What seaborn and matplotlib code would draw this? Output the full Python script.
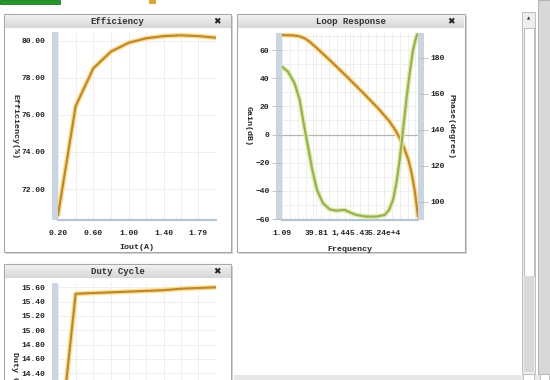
import numpy as np
import pandas as pd
import matplotlib
matplotlib.use('Agg')
import matplotlib.pyplot as plt
import seaborn as sns
from matplotlib.patches import Rectangle
from matplotlib.ticker import FixedLocator, NullFormatter

# ---- data ----
iout = [0.20, 0.40, 0.60, 0.80, 1.00, 1.20, 1.40, 1.59, 1.79, 1.99]
efficiency = [70.59, 76.47, 78.51, 79.41, 79.89, 80.13, 80.25, 80.29, 80.25, 80.16]
iout_ticks = [0.20, 0.60, 1.00, 1.40, 1.79]
eff_ticks = [72, 74, 76, 78, 80]

duty = [13.20, 15.51, 15.52, 15.53, 15.54, 15.55, 15.56, 15.58, 15.59, 15.60]
duty_ticks = [14.40, 14.60, 14.80, 15.00, 15.20, 15.40, 15.60]

# loop response, frequency as log10(Hz)
gain_logf = [0.037, 0.542, 0.848, 1.077, 1.307, 1.613, 2.225, 2.990, 3.755, 4.520,
             4.979, 5.285, 5.591, 5.820, 5.973, 6.126, 6.279]
gain_db = [70.65, 70.4, 69.7, 68.3, 65.9, 61.7, 52.9, 41.5, 29.7, 17.4,
           9.1, 2.0, -7.5, -17.0, -26.4, -39.4, -58.3]
phase_logf = [0.037, 0.312, 0.618, 0.848, 1.032, 1.230, 1.429, 1.643, 1.919, 2.225,
              2.531, 2.913, 3.143, 3.449, 3.908, 4.367, 4.749, 4.948, 5.132, 5.285,
              5.438, 5.591, 5.744, 5.897, 6.050, 6.203, 6.279]
phase_deg = [175.0, 172.2, 165.7, 156.5, 143.5, 130.6, 117.6, 106.5, 99.1, 95.7,
             95.0, 95.4, 94.1, 92.6, 91.7, 91.7, 92.6, 95.4, 100.9, 110.2,
             123.1, 139.8, 156.5, 171.3, 184.3, 191.7, 193.5]
freq_ticks = [1.09, 39.81, 1445.43, 52400]
freq_labels = ['1.09', '39.81', '1,445.43', '5.24e+4']
gain_ticks = [-60, -40, -20, 0, 20, 40, 60]
phase_ticks = [100, 120, 140, 160, 180]

W, H = 550, 380
ORANGE = '#c8841c'
ORANGE_GLOW = '#f6dc8f'
GREEN = '#94b43e'
GREEN_GLOW = '#dde9b4'
BAR = '#c9d6e1'
FONT = ['Liberation Mono', 'DejaVu Sans Mono']

sns.set_style('white')
plt.rcParams['font.family'] = FONT
plt.rcParams['font.weight'] = 'bold'

fig = plt.figure(figsize=(5.5, 3.8), dpi=100)


def box(x0, y0, x1, y1):
    return [x0 / W, 1 - y1 / H, (x1 - x0) / W, (y1 - y0) / H]


def rect(x0, y0, x1, y1, **kw):
    fig.add_artist(Rectangle((x0 / W, 1 - y1 / H), (x1 - x0) / W, (y1 - y0) / H,
                             transform=fig.transFigure, **kw))


def ftext(x, y, s, **kw):
    fig.text(x / W, 1 - y / H, s, **kw)


def panel(x0, y0, x1, y1, title):
    rect(x0 + 2, y0 + 2, x1 + 2, y1 + 2, fc='#d4d4d4', ec='none', zorder=-3)
    rect(x0, y0, x1, y1, fc='white', ec='#a8a8a8', lw=0.8, zorder=-2)
    tb = fig.add_axes(box(x0 + 1, y0 + 1, x1 - 1, y0 + 14), zorder=-1)
    grad = np.linspace(0, 1, 20).reshape(-1, 1)
    tb.imshow(grad, aspect='auto', cmap=sns.light_palette('#cfcfcf', as_cmap=True),
              extent=[0, 1, 0, 1], vmin=0, vmax=1.3)
    tb.axis('off')
    ftext((x0 + x1) / 2, y0 + 7.5, title, ha='center', va='center', fontsize=6.5,
          fontweight='bold', color='#333333')
    ftext(x1 - 14, y0 + 7.5, '✖', ha='center', va='center', fontsize=6.5,
          color='#222222', family='DejaVu Sans')


def style_axis(ax, left_px, top_px, bottom_px, right_bar=None):
    for s in ['top', 'right', 'left']:
        ax.spines[s].set_visible(False)
    ax.spines['bottom'].set_color('#b4c5d4')
    ax.spines['bottom'].set_linewidth(1.6)
    ax.spines['bottom'].set_linestyle((0, (1, 1)))
    ax.tick_params(axis='both', labelsize=5.8, colors='#222222')
    ax.tick_params(axis='y', which='major', length=7, width=0.6, color='#bbbbbb', pad=2)
    ax.tick_params(axis='x', which='major', length=2, width=0.6, color='#b4c5d4', pad=5)
    ax.tick_params(which='minor', length=0)
    ax.grid(True, which='both', color='#ececec', lw=0.6)
    ax.set_axisbelow(True)
    rect(left_px - 6, top_px, left_px, bottom_px, fc=BAR, ec='none', zorder=-0.5)
    if right_bar is not None:
        rect(right_bar, top_px, right_bar + 6, bottom_px, fc=BAR, ec='none', zorder=-0.5)


def glow_line(ax, x, y, color, glow):
    df = pd.DataFrame({'x': x, 'y': y})
    sns.lineplot(data=df, x='x', y='y', ax=ax, color=glow, lw=3.4, sort=False)
    sns.lineplot(data=df, x='x', y='y', ax=ax, color=color, lw=1.5, sort=False)


# ---- page chrome ----
rect(0, 0, 60, 3.5, fc='#1c9e22', ec='#0d5e10', lw=0.5)
rect(149, 0, 156, 4, fc='#e2a531', ec='none')

panel(4, 14, 231, 252, 'Efficiency')
panel(237, 14, 465, 252, 'Loop Response')
panel(4, 264, 231, 400, 'Duty Cycle')

# scrollbars
rect(522, 12, 535, 374, fc='#eeeeee', ec='#b5b5b5', lw=0.6)
rect(523.5, 28, 533.5, 276, fc='white', ec='#b0b0b0', lw=0.6)
rect(523.5, 276, 533.5, 372, fc='#d9d9d9', ec='none')
ftext(528.5, 19, '▲', ha='center', va='center', fontsize=3, family='DejaVu Sans')
rect(538, 0, 550, 374, fc='#d8d8d8', ec='#aaaaaa', lw=0.6)
rect(234, 375, 550, 380, fc='#e8e8e8', ec='none')
rect(523, 374, 534, 380, fc='white', ec='#b0b0b0', lw=0.5)
rect(540, 374, 549, 380, fc='white', ec='#b0b0b0', lw=0.5)

# ---- Efficiency ----
ax1 = fig.add_axes(box(58, 32, 216, 220))
glow_line(ax1, iout, efficiency, ORANGE, ORANGE_GLOW)
ax1.set_xlim(0.2, 1.99)
ax1.set_ylim(70.33, 80.47)
ax1.xaxis.set_minor_locator(FixedLocator(iout))
ax1.set_xticks(iout_ticks)
ax1.set_xticklabels([f'{v:.2f}' for v in iout_ticks])
ax1.set_yticks(eff_ticks)
ax1.set_yticklabels([f'{v:.2f}' for v in eff_ticks])
style_axis(ax1, 58, 32, 220)
ax1.set_xlabel('Iout(A)', fontsize=6, fontweight='bold')
ax1.set_ylabel('Efficiency(%)', fontsize=6, fontweight='bold', rotation=-90)
ax1.xaxis.set_label_coords(0.5, (220 - 244) / 188)
ax1.yaxis.set_label_coords((11 - 58) / 158, 0.5)

# ---- Loop Response ----
ax2 = fig.add_axes(box(282, 33, 418, 220))
ax2.set_xscale('log')
glow_line(ax2, [10 ** v for v in gain_logf], gain_db, ORANGE, ORANGE_GLOW)
ax2.axhline(0, color='#b2b8ae', lw=0.9, zorder=1)
ax2.set_xlim(1.09, 1.9e6)
ax2.set_ylim(-60.7, 72.1)
ax2.xaxis.set_minor_locator(FixedLocator(10 ** np.arange(0.037, 6.3, 0.36)))
ax2.xaxis.set_minor_formatter(NullFormatter())
ax2.set_xticks(freq_ticks)
ax2.set_xticklabels(freq_labels)
ax2.set_yticks(gain_ticks)
ax2.yaxis.set_minor_locator(FixedLocator(np.arange(-60, 72, 10)))
style_axis(ax2, 282, 33, 220, right_bar=418)
ax2.set_xlabel('Frequency', fontsize=6, fontweight='bold')
ax2.set_ylabel('Gain(dB)', fontsize=6, fontweight='bold', rotation=-90)
ax2.xaxis.set_label_coords(0.5, (220 - 246) / 187)
ax2.yaxis.set_label_coords((245 - 282) / 136, 0.5)

ax2b = ax2.twinx()
glow_line(ax2b, [10 ** v for v in phase_logf], phase_deg, GREEN, GREEN_GLOW)
ax2b.set_ylim(89.8, 193.7)
ax2b.set_yticks(phase_ticks)
for s in ['top', 'left', 'right', 'bottom']:
    ax2b.spines[s].set_visible(False)
ax2b.tick_params(axis='y', labelsize=5.8, length=7, width=0.6, color='#bbbbbb', pad=2,
                 colors='#222222')
ax2b.grid(False)
ax2b.set_ylabel('Phase(degree)', fontsize=6, fontweight='bold', rotation=-90)
ax2b.yaxis.set_label_coords((454 - 282) / 136, 0.5)

# ---- Duty Cycle (panel runs past the bottom of the page) ----
ax3 = fig.add_axes(box(58, 283, 216, 470))
glow_line(ax3, iout, duty, ORANGE, ORANGE_GLOW)
ax3.set_xlim(0.2, 1.99)
ax3.set_ylim(13.05, 15.66)
ax3.xaxis.set_minor_locator(FixedLocator(iout))
ax3.set_xticks(iout_ticks)
ax3.set_xticklabels([])
ax3.set_yticks(duty_ticks)
ax3.set_yticklabels([f'{v:.2f}' for v in duty_ticks])
style_axis(ax3, 58, 283, 470)
ax3.set_xlabel('')
ax3.set_ylabel('Duty Cycle', fontsize=6, fontweight='bold', rotation=-90)
ax3.yaxis.set_label_coords((11 - 58) / 158, 0.5)

fig.savefig('out.png', dpi=100)
